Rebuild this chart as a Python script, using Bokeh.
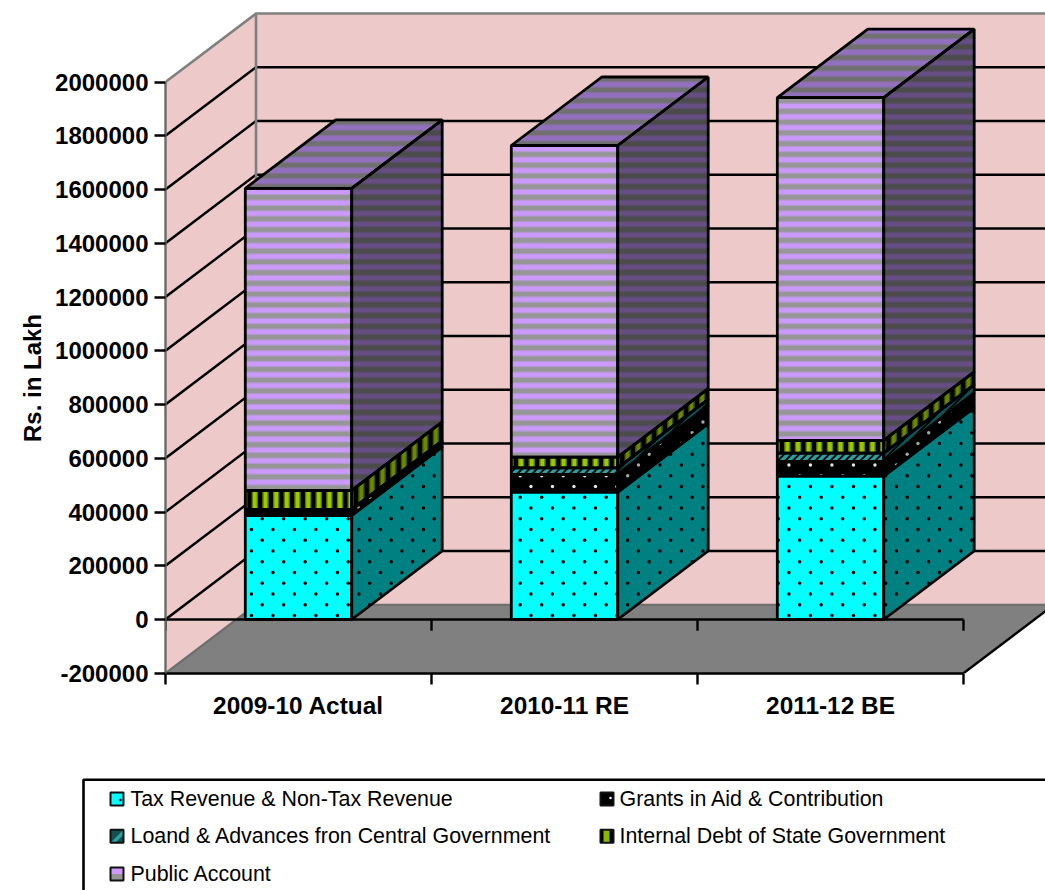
from bokeh.embed import file_html
from bokeh.resources import INLINE
from bokeh.plotting import figure
from bokeh.models import ColumnDataSource, FixedTicker, Range1d, Title
from bokeh.core.properties import value

# Revenue receipts by year, Rs. in Lakh
years = ["2009-10 Actual", "2010-11 RE", "2011-12 BE"]
tax_revenue = [387000, 473700, 533200]
grants_in_aid = [22000, 65900, 54700]
loans_advances = [1000, 24900, 30900]
internal_debt = [70700, 39400, 47300]
public_account = [1123700, 1159800, 1276000]
series_names = [
    "Tax Revenue & Non-Tax Revenue",
    "Grants in Aid & Contribution",
    "Loand & Advances fron Central Government",
    "Internal Debt of State Government",
    "Public Account",
]
y_ticks = list(range(-200000, 2000001, 200000))

FONT = "Liberation Sans"
WIDTH, FRAME_H, CHART_H, TOTAL_H = 1045, 673, 738, 890
LEFT = 165.0
ZERO_Y = 619.0
PX_PER_CAT = 798.0 / 3
PX_PER_VAL = 53.75 / 200000
DEPTH_X = 90.5 / PX_PER_CAT
DEPTH_Y = 68.5 / PX_PER_VAL
BAR_WIDTH = 0.4
WALL = "#EDC9C9"
EDGE = "#808080"
FLOOR = "#808080"
Y_MIN, Y_MAX = -200000, 2000000


def to_px(x, v):
    return LEFT + x * PX_PER_CAT, ZERO_Y - v * PX_PER_VAL


def from_px(sx, sy):
    return (sx - LEFT) / PX_PER_CAT, (ZERO_Y - sy) / PX_PER_VAL


def clip_half(poly, a, b, c, keep_above):
    """Clip a polygon against the half plane a*x + b*y >= c (or <= c)."""
    out = []
    n = len(poly)
    sign = 1 if keep_above else -1
    for i in range(n):
        p, q = poly[i], poly[(i + 1) % n]
        dp = sign * (a * p[0] + b * p[1] - c)
        dq = sign * (a * q[0] + b * q[1] - c)
        if dp >= 0:
            out.append(p)
        if dp * dq < 0:
            t = dp / (dp - dq)
            out.append((p[0] + t * (q[0] - p[0]), p[1] + t * (q[1] - p[1])))
    return out


def bands(poly, a, b, start, period, width):
    """Pieces of a polygon lying in the repeating bands of a*x + b*y."""
    vals = [a * p[0] + b * p[1] for p in poly]
    k = int((min(vals) - start) // period) - 1
    pieces = []
    while start + k * period - width / 2 < max(vals):
        lo = start + k * period - width / 2
        piece = clip_half(clip_half(poly, a, b, lo, True), a, b, lo + width, False)
        if len(piece) >= 3:
            pieces.append(piece)
        k += 1
    return pieces


def inside(poly, x, y):
    sign = 0
    for i in range(len(poly)):
        p, q = poly[i], poly[(i + 1) % len(poly)]
        cr = (q[0] - p[0]) * (y - p[1]) - (q[1] - p[1]) * (x - p[0])
        if abs(cr) < 1e-9:
            continue
        s = 1 if cr > 0 else -1
        if sign and s != sign:
            return False
        sign = s
    return True


def dot_grid(poly):
    xs = [p[0] for p in poly]
    ys = [p[1] for p in poly]
    pts = []
    row = int((min(ys) - 518.3) // 10.75) - 1
    while 518.3 + row * 10.75 < max(ys):
        y = 518.3 + row * 10.75
        x0 = 261.7 - (10.75 if row % 2 else 0)
        col = int((min(xs) - x0) // 21.5) - 1
        while x0 + col * 21.5 < max(xs):
            x = x0 + col * 21.5
            if inside(poly, x, y):
                pts.append((x, y))
            col += 1
        row += 1
    return pts


p = figure(
    width=WIDTH, height=CHART_H, output_backend="svg", toolbar_location=None,
    x_range=Range1d(0, (WIDTH - LEFT) / PX_PER_CAT),
    y_range=Range1d(from_px(0, FRAME_H)[1], from_px(0, 0)[1]),
    min_border_left=int(LEFT), min_border_right=0, min_border_top=0,
    min_border_bottom=CHART_H - FRAME_H, outline_line_color=None,
    background_fill_color="white", border_fill_color="white",
)
p.grid.visible = False

# Walls and floor of the box
top_wall = Y_MAX + DEPTH_Y
floor_back = Y_MIN + DEPTH_Y
right_end = 3 + DEPTH_X
p.patch([0, DEPTH_X, DEPTH_X, 0], [Y_MIN, floor_back, top_wall, Y_MAX], fill_color=WALL, line_color=None)
p.patch([DEPTH_X, right_end, right_end, DEPTH_X], [floor_back, floor_back, top_wall, top_wall], fill_color=WALL, line_color=None)
p.patch([0, DEPTH_X, right_end, 3], [Y_MIN, floor_back, floor_back, Y_MIN], fill_color=FLOOR, line_color=None)

# Gridlines on the side wall and the back wall
for t in y_ticks[1:-1]:
    p.line([0, DEPTH_X, right_end], [t, t + DEPTH_Y, t + DEPTH_Y], line_color="black", line_width=2.4)

p.line([0, DEPTH_X, right_end], [Y_MAX, top_wall, top_wall], line_color=EDGE, line_width=2.6)
p.line([DEPTH_X, DEPTH_X], [floor_back, top_wall], line_color=EDGE, line_width=2.6)
p.line([0, DEPTH_X, right_end], [Y_MIN, floor_back, floor_back], line_color="#6E6E6E", line_width=2.2)

# Front edge at zero with its ticks, and the right edge of the floor
p.line([0, 3], [0, 0], line_color="black", line_width=2.4)
for c in (0, 1, 2, 3):
    p.line([c, c], [0, -42000], line_color="black", line_width=2.4)
p.line([3, right_end], [Y_MIN, floor_back], line_color="black", line_width=2.4)

# Stacked boxes: base faces, textures, then outlines
stack = [tax_revenue, grants_in_aid, loans_advances, internal_debt, public_account]
styles = {
    0: dict(front="#00FFFF", side="#008080", top=None),
    1: dict(front="#000000", side="#000000", top=None),
    2: dict(front="#2E9E9E", side="#0E5252", top=None),
    3: dict(front="#000000", side="#000000", top=None),
    4: dict(front="#969696", side="#4B4B4B", top="#707070"),
}
face_xs, face_ys, face_cols = [], [], []
tex_xs, tex_ys, tex_cols = [], [], []
dot_x, dot_y, dot_c = [], [], []
line_xs, line_ys = [], []


def add_texture(poly, colour):
    qx, qy = zip(*[from_px(*pt) for pt in poly])
    tex_xs.append(list(qx))
    tex_ys.append(list(qy))
    tex_cols.append(colour)


def add_face(corners, base, kind, level):
    face_xs.append([c[0] for c in corners])
    face_ys.append([c[1] for c in corners])
    face_cols.append(base)
    line_xs.append(face_xs[-1])
    line_ys.append(face_ys[-1])
    poly = [to_px(*c) for c in corners]
    if level == 0 or level == 1:
        colour = {0: "#000000", 1: "#E6E6E6" if kind == "front" else "#A8A8A8"}[level]
        for sx, sy in dot_grid(poly):
            x, v = from_px(sx, sy)
            dot_x.append(x)
            dot_y.append(v)
            dot_c.append(colour)
    elif level == 2:
        for piece in bands(poly, 1, 1, 0, 7.5, 2.6):
            add_texture(piece, "#000000")
    elif level == 3:
        outer = {"front": "#5F7C00", "side": "#3F5200"}[kind]
        inner = {"front": "#99CC00", "side": "#6A8800"}[kind]
        for piece in bands(poly, 1, 0, 265.0, 10.65, 6.4):
            add_texture(piece, outer)
        for piece in bands(poly, 1, 0, 265.0, 10.65, 3.6):
            add_texture(piece, inner)
    elif level == 4:
        blend = {"front": "#B199CB", "side": "#584C68", "top": "#8570A0"}[kind]
        pure = {"front": "#CC99FF", "side": "#664E85", "top": "#9370BF"}[kind]
        for piece in bands(poly, 0, 1, 428.0, 10.75, 6.6):
            add_texture(piece, blend)
        for piece in bands(poly, 0, 1, 428.0, 10.75, 4.2):
            add_texture(piece, pure)


for i in range(len(years)):
    x0 = i + 0.5 - BAR_WIDTH / 2
    x1 = i + 0.5 + BAR_WIDTH / 2
    base = 0
    for level, values in enumerate(stack):
        top = base + values[i]
        st = styles[level]
        add_face([(x0, base), (x1, base), (x1, top), (x0, top)], st["front"], "front", level)
        add_face([(x1, base), (x1 + DEPTH_X, base + DEPTH_Y), (x1 + DEPTH_X, top + DEPTH_Y), (x1, top)], st["side"], "side", level)
        if level == len(stack) - 1:
            add_face([(x0, top), (x1, top), (x1 + DEPTH_X, top + DEPTH_Y), (x0 + DEPTH_X, top + DEPTH_Y)], st["top"], "top", level)
        base = top

p.patches("xs", "ys", fill_color="cols", line_color=None,
          source=ColumnDataSource(dict(xs=face_xs, ys=face_ys, cols=face_cols)))
p.patches("xs", "ys", fill_color="cols", line_color=None,
          source=ColumnDataSource(dict(xs=tex_xs, ys=tex_ys, cols=tex_cols)))
p.scatter("x", "y", size=3.4, color="c", line_color=None,
          source=ColumnDataSource(dict(x=dot_x, y=dot_y, c=dot_c)))
p.patches(line_xs, line_ys, fill_color=None, line_color="black", line_width=2.8)

# Axes
ya = p.yaxis[0]
ya.ticker = FixedTicker(ticks=y_ticks)
ya.bounds = (Y_MIN, Y_MAX)
ya.formatter.use_scientific = False
ya.major_label_overrides = {-200000: "-200000"}
ya.major_label_text_font = FONT
ya.major_label_text_font_style = "bold"
ya.major_label_text_font_size = "24px"
ya.major_label_text_color = "black"
ya.major_label_standoff = 6
ya.major_tick_out = 11
ya.major_tick_in = 0
ya.minor_tick_line_color = None
ya.axis_line_color = "#6A6A6A"
ya.axis_line_width = 2.4
ya.major_tick_line_color = "black"
ya.major_tick_line_width = 2.4

# Axis title sits below the middle of the plot area, left of the tick labels
p.add_layout(Title(
    text="Rs. in Lakh", align="left", offset=FRAME_H - 441.5, standoff=10,
    vertical_align="top",
    text_font=FONT, text_font_style="bold", text_font_size="24px", text_color="black",
), "left")

xa = p.xaxis[0]
xa.ticker = FixedTicker(ticks=[0.5, 1.5, 2.5], minor_ticks=[0, 1, 2, 3])
xa.bounds = (0, 3)
xa.major_label_overrides = {0.5: years[0], 1.5: years[1], 2.5: years[2]}
xa.major_label_text_font = FONT
xa.major_label_text_font_style = "bold"
xa.major_label_text_font_size = "24.4px"
xa.major_label_text_color = "black"
xa.major_label_standoff = 7
xa.major_tick_out = 11
xa.major_tick_in = 0
xa.major_tick_line_color = None
xa.minor_tick_out = 11
xa.minor_tick_in = 0
xa.minor_tick_line_color = "black"
xa.minor_tick_line_width = 2.4
xa.axis_line_color = "black"
xa.axis_line_width = 2.4

# Legend panel below the chart
legend_h = TOTAL_H - CHART_H
leg = figure(
    width=WIDTH, height=legend_h, output_backend="svg", toolbar_location=None,
    x_range=Range1d(0, WIDTH), y_range=Range1d(TOTAL_H, CHART_H),
    min_border=0, outline_line_color=None, x_axis_type=None, y_axis_type=None,
    background_fill_color="white", border_fill_color="white",
)
leg.grid.visible = False
leg.line([WIDTH, 83, 83], [779.3, 779.3, TOTAL_H], line_color="black", line_width=2.6)

entries = [(110, 798.5), (600, 798.5), (110, 835.7), (600, 835.7), (110, 873.5)]
sw_w, sw_h = 13, 13
for k, (ex, ey) in enumerate(entries):
    t, b = ey - sw_h / 2, ey + sw_h / 2
    base_colour = ["#00FFFF", "#000000", "#0E5252", "#000000", "#969696"][k]
    leg.quad(left=ex, right=ex + sw_w, top=t, bottom=b, fill_color=base_colour, line_color=None)
    if k == 0:
        leg.scatter([ex + 10], [ey + 1], size=2.5, color="black", line_color=None)
    elif k == 1:
        leg.scatter([ex + 10], [ey - 1], size=2.5, color="white", line_color=None)
    elif k == 2:
        leg.patch([ex, ex + sw_w, ex + sw_w, ex + 5], [b, t, t + 5, b], fill_color="#2E9E9E", line_color=None)
    elif k == 3:
        leg.quad(left=ex + 3, right=ex + 9, top=t, bottom=b, fill_color="#88B800", line_color=None)
    elif k == 4:
        leg.quad(left=ex, right=ex + sw_w, top=t, bottom=ey, fill_color="#CC99FF", line_color=None)
    leg.quad(left=ex, right=ex + sw_w, top=t, bottom=b, fill_color=None, line_color="#111111", line_width=2)
    leg.text([ex + 20 - (1 if k % 2 else 0)], [ey], text=[series_names[k]], text_font=value(FONT),
             text_font_size="21.4px", text_color="black", text_baseline="middle", text_align="left")

open("out.html", "w").write(file_html([p, leg], INLINE))
